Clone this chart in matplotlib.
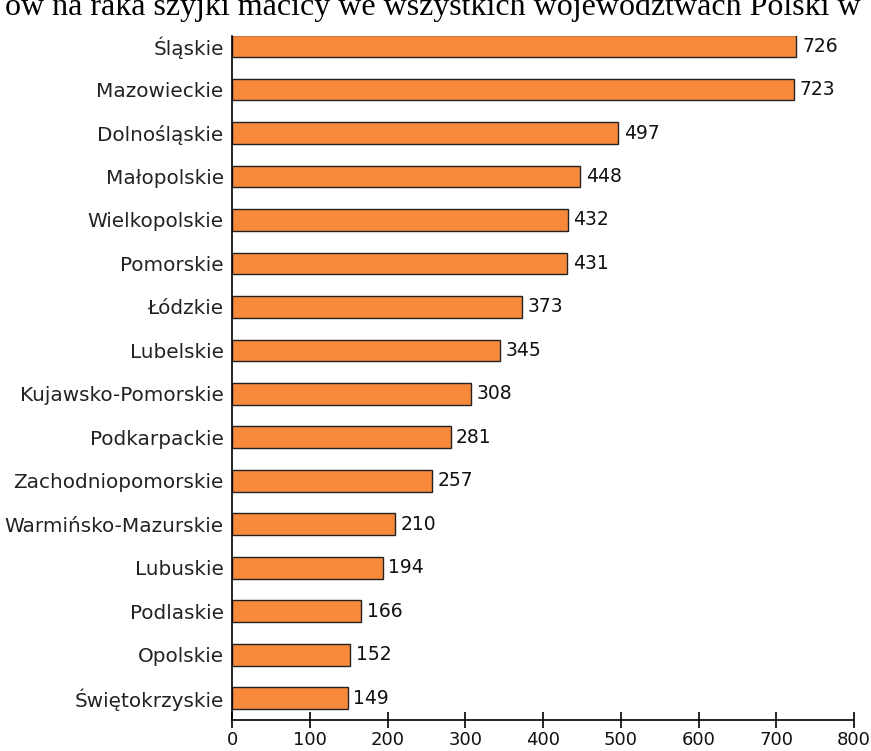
import matplotlib.pyplot as plt

regions = [
    "Śląskie", "Mazowieckie", "Dolnośląskie", "Małopolskie", "Wielkopolskie",
    "Pomorskie", "Łódzkie", "Lubelskie", "Kujawsko-Pomorskie", "Podkarpackie",
    "Zachodniopomorskie", "Warmińsko-Mazurskie", "Lubuskie", "Podlaskie",
    "Opolskie", "Świętokrzyskie",
]
cases = [726, 723, 497, 448, 432, 431, 373, 345, 308, 281, 257, 210, 194, 166, 152, 149]
xticks = [0, 100, 200, 300, 400, 500, 600, 700, 800]
title = "ów na raka szyjki macicy we wszystkich województwach Polski w"

fig = plt.figure(figsize=(8.71, 7.51), dpi=100)
ax = fig.add_axes([0.2664, 0.0413, 0.7141, 0.9107])

pos = list(range(len(regions)))
ax.barh(pos, cases, height=0.5, color="#F7893B", edgecolor="#222222", linewidth=1.0)
for p, v in zip(pos, cases):
    ax.annotate(str(v), (v, p), xytext=(4, 0), textcoords="offset points",
                va="center", ha="left", fontsize=13.5, color="#111111")

ax.set_ylim(15.5, -0.23)
ax.set_xlim(0, 800)
ax.set_yticks(pos)
ax.set_yticklabels(regions, fontsize=14.4, color="#222222")
ax.set_xticks(xticks)
ax.set_xticklabels([str(t) for t in xticks], fontsize=13, color="#111111")
ax.tick_params(axis="y", length=0, pad=6)
ax.tick_params(axis="x", direction="inout", length=11, width=1.2, pad=2.5)
ax.spines["top"].set_visible(False)
ax.spines["right"].set_visible(False)
ax.spines["left"].set_linewidth(1.2)
ax.spines["bottom"].set_linewidth(1.2)

# title line, cut off at the top of the scan like in the original
fig.text(0.497, 1 - 15 / 751, title, ha="center", va="baseline",
         fontsize=23, family="Liberation Serif")

fig.savefig("out.png", dpi=100)
